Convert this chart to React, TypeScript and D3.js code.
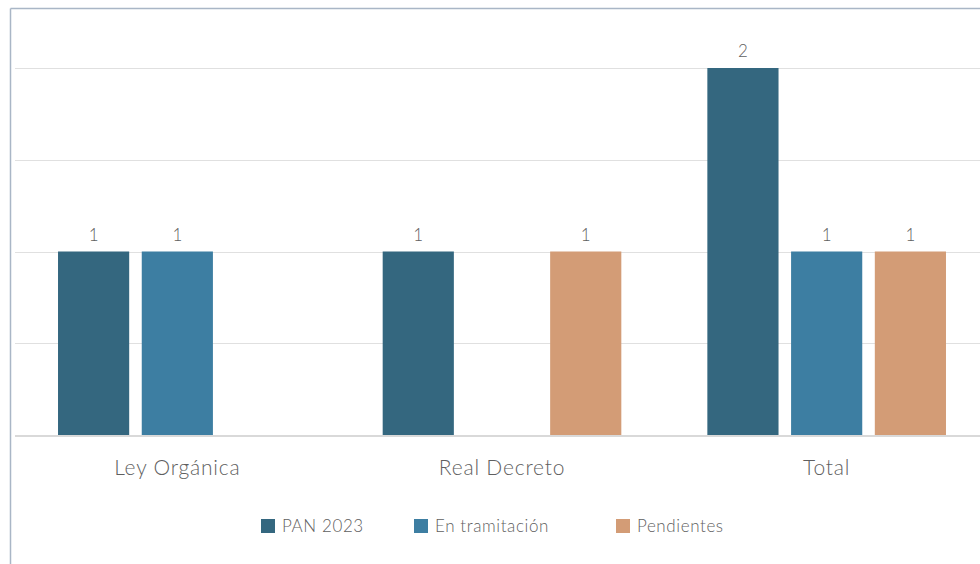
import { useEffect, useRef } from "react";
import * as d3 from "d3";

const categories = ["Ley Orgánica", "Real Decreto", "Total"];
const seriesNames = ["PAN 2023", "En tramitación", "Pendientes"];
const seriesColors = ["#34677f", "#3d7ea2", "#d39c76"];
// null = no bar drawn
const pan2023 = [1, 1, 2];
const enTramitacion = [1, null, 1];
const pendientes = [null, 1, 1];
const yTicks = [0, 0.5, 1, 1.5, 2];

const WIDTH = 980;
const HEIGHT = 564;
const FONT = "Lato, 'Open Sans', sans-serif";
const TEXT = "#5f5f5f";

export default function App() {
  const svgRef = useRef<SVGSVGElement>(null);

  useEffect(() => {
    const svg = d3.select(svgRef.current);
    svg.selectAll("*").remove();

    const margin = { top: 68, left: 15, bottom: 129 };
    const plotRight = 989; // runs past the visible edge, like the cropped original
    const innerH = HEIGHT - margin.top - margin.bottom;

    // outer frame (top and left edges only are visible)
    svg.append("line")
      .attr("x1", 10.5).attr("x2", WIDTH).attr("y1", 8.5).attr("y2", 8.5)
      .attr("stroke", "#a9b6c6").attr("stroke-width", 1.5);
    svg.append("line")
      .attr("x1", 10.5).attr("x2", 10.5).attr("y1", 8.5).attr("y2", HEIGHT)
      .attr("stroke", "#a9b6c6").attr("stroke-width", 1.5);

    const g = svg.append("g").attr("transform", `translate(${margin.left},${margin.top})`);
    const innerW = plotRight - margin.left;

    const x0 = d3.scaleBand<string>().domain(categories).range([0, innerW]).paddingInner(0.265).paddingOuter(0.1325);
    const x1 = d3.scaleBand<string>().domain(seriesNames).range([0, x0.bandwidth()]).paddingInner(0.15);
    const y = d3.scaleLinear().domain([0, 2]).range([innerH, 0]);

    // gridlines
    yTicks.slice(1).forEach((t) => {
      g.append("line")
        .attr("x1", 0).attr("x2", innerW)
        .attr("y1", Math.round(y(t)) + 0.5).attr("y2", Math.round(y(t)) + 0.5)
        .attr("stroke", "#e0e0e0").attr("stroke-width", 1);
    });

    const values = [pan2023, enTramitacion, pendientes];
    categories.forEach((cat, ci) => {
      seriesNames.forEach((s, si) => {
        const v = values[si][ci];
        if (v == null) return;
        const bx = x0(cat)! + x1(s)!;
        g.append("rect")
          .attr("x", bx).attr("y", y(v))
          .attr("width", x1.bandwidth()).attr("height", innerH - y(v))
          .attr("fill", seriesColors[si]);
        g.append("text")
          .attr("x", bx + x1.bandwidth() / 2).attr("y", y(v) - 11)
          .attr("text-anchor", "middle")
          .attr("font-family", FONT).attr("font-size", 17).attr("font-weight", 300)
          .attr("fill", TEXT)
          .text(v);
      });
    });

    // baseline
    g.append("line")
      .attr("x1", 0).attr("x2", innerW).attr("y1", innerH + 1).attr("y2", innerH + 1)
      .attr("stroke", "#d9d9d9").attr("stroke-width", 2);

    // category labels
    categories.forEach((cat) => {
      g.append("text")
        .attr("x", x0(cat)! + x0.bandwidth() / 2).attr("y", innerH + 40)
        .attr("text-anchor", "middle")
        .attr("font-family", FONT).attr("font-size", 21).attr("font-weight", 300)
        .attr("letter-spacing", 0.8)
        .attr("fill", TEXT)
        .text(cat);
    });

    // legend
    const legendX = [261, 414, 616];
    seriesNames.forEach((s, i) => {
      svg.append("rect")
        .attr("x", legendX[i]).attr("y", 519).attr("width", 14).attr("height", 14)
        .attr("fill", seriesColors[i]);
      svg.append("text")
        .attr("x", legendX[i] + 21).attr("y", 532)
        .attr("font-family", FONT).attr("font-size", 17).attr("font-weight", 300)
        .attr("letter-spacing", 0.6)
        .attr("fill", TEXT)
        .text(s);
    });
  }, []);

  return (
    <svg
      ref={svgRef}
      width={WIDTH}
      height={HEIGHT}
      style={{ position: "absolute", left: 0, top: 0, background: "#fff" }}
    />
  );
}
